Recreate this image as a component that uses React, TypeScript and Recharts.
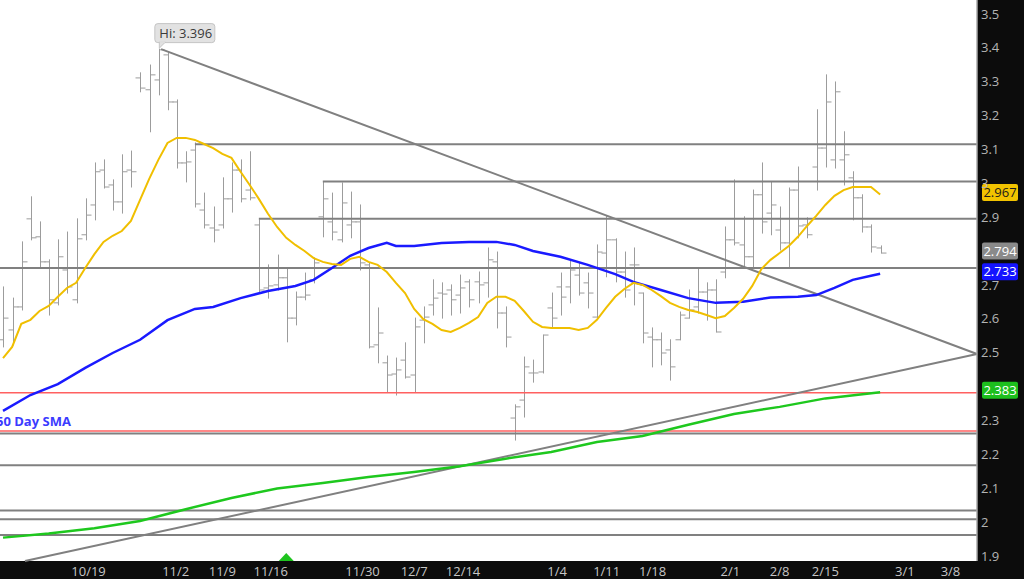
import React from 'react';
import {
  ComposedChart, XAxis, YAxis, Bar, Line, ReferenceLine, ReferenceDot, CartesianGrid,
} from 'recharts';

// ---- OHLC bars (one per trading day, index 0..96) ----
const opens = [2.538,2.567,2.635,2.895,2.842,2.768,2.647,2.744,2.656,2.848,
2.936,3.039,2.995,2.945,3.039,3.311,3.276,3.305,3.379,3.240,
3.060,3.098,2.921,2.868,2.877,2.954,3.039,2.980,2.877,2.691,
2.700,2.721,2.602,2.664,2.715,2.901,2.886,2.833,2.877,2.886,
2.759,2.523,2.470,2.437,2.478,2.434,2.596,2.641,2.676,2.685,
2.670,2.709,2.709,2.706,2.768,2.617,2.307,2.360,2.440,2.443,
2.632,2.694,2.694,2.729,2.706,2.605,2.794,2.833,2.738,2.759,
2.676,2.546,2.538,2.508,2.538,2.602,2.635,2.679,2.685,2.738,
2.833,2.818,2.783,2.966,2.912,2.862,2.824,2.980,2.877,3.048,
3.104,3.069,3.069,3.016,2.957,2.871,2.809];
const highs = [2.694,2.661,2.827,2.960,2.886,2.774,2.833,2.856,2.895,2.954,
3.060,3.069,3.010,3.084,3.095,3.326,3.349,3.396,3.385,3.246,
3.093,3.119,2.971,2.930,3.016,3.060,3.069,3.093,2.892,2.759,
2.788,2.750,2.679,2.735,2.780,3.004,2.971,3.001,2.974,2.936,
2.765,2.632,2.490,2.484,2.529,2.602,2.635,2.715,2.706,2.700,
2.729,2.715,2.738,2.809,2.797,2.635,2.346,2.487,2.478,2.552,
2.676,2.735,2.774,2.765,2.735,2.818,2.904,2.836,2.797,2.809,
2.676,2.573,2.558,2.538,2.620,2.685,2.750,2.706,2.715,2.871,
3.010,2.901,2.980,3.060,3.004,2.930,2.986,3.048,2.898,3.217,
3.320,3.299,3.152,3.034,2.966,2.877,2.815];
const lows = [2.517,2.523,2.626,2.833,2.753,2.611,2.641,2.676,2.647,2.833,
2.892,2.986,2.921,2.912,2.989,3.270,3.152,3.261,3.217,3.045,
3.004,2.930,2.868,2.827,2.868,2.915,2.945,2.951,2.679,2.661,
2.685,2.532,2.582,2.656,2.706,2.842,2.833,2.827,2.839,2.744,
2.514,2.470,2.384,2.375,2.425,2.384,2.529,2.611,2.602,2.611,
2.617,2.635,2.647,2.664,2.573,2.517,2.242,2.310,2.413,2.440,
2.576,2.611,2.647,2.670,2.632,2.602,2.724,2.709,2.664,2.641,
2.529,2.458,2.464,2.419,2.538,2.602,2.617,2.596,2.561,2.721,
2.818,2.750,2.750,2.853,2.848,2.803,2.750,2.839,2.839,2.980,
3.048,3.045,2.995,2.892,2.856,2.797,2.794];
const closes = [2.602,2.635,2.768,2.839,2.768,2.656,2.783,2.694,2.836,2.906,
3.034,2.989,2.945,3.034,3.034,3.281,3.320,3.394,3.240,3.060,
3.063,2.939,2.877,2.862,2.954,3.039,2.954,2.957,2.685,2.697,
2.721,2.602,2.664,2.670,2.765,2.954,2.856,2.942,2.886,2.765,
2.517,2.558,2.434,2.449,2.428,2.576,2.605,2.661,2.673,2.656,
2.691,2.656,2.700,2.774,2.617,2.546,2.340,2.458,2.440,2.552,
2.602,2.664,2.744,2.676,2.676,2.797,2.833,2.738,2.685,2.759,
2.558,2.538,2.499,2.458,2.611,2.626,2.679,2.685,2.561,2.833,
2.824,2.783,2.966,2.886,2.936,2.824,2.980,2.874,2.848,3.104,
3.240,3.270,3.084,2.957,2.871,2.812,2.794];

// ---- moving averages ----
const sma10 = [2.484,2.517,2.585,2.597,2.623,2.638,2.665,2.691,2.706,2.750,
2.791,2.827,2.845,2.859,2.889,2.951,3.013,3.069,3.119,3.134,
3.134,3.128,3.116,3.104,3.087,3.075,3.034,2.995,2.954,2.910,
2.871,2.839,2.818,2.800,2.779,2.768,2.762,2.759,2.777,2.783,
2.768,2.759,2.738,2.706,2.676,2.629,2.599,2.585,2.567,2.561,
2.573,2.588,2.605,2.647,2.665,2.665,2.653,2.623,2.591,2.576,
2.573,2.573,2.573,2.567,2.573,2.597,2.632,2.665,2.688,2.706,
2.700,2.685,2.667,2.647,2.635,2.626,2.620,2.611,2.602,2.608,
2.632,2.659,2.697,2.747,2.774,2.794,2.815,2.842,2.874,2.904,
2.936,2.963,2.980,2.989,2.989,2.989,2.967];
const sma50Idx = [0,3,6,9,12,15,18,21,23,26,29,32,34,36,38,40,42,43,45,48,51,54,56,58,61,64,67,69,72,75,78,81,84,87,89,91,93,95,96];
const sma50Vals = [2.328,2.375,2.407,2.455,2.499,2.538,2.596,2.629,2.635,2.661,
2.682,2.697,2.715,2.750,2.786,2.809,2.824,2.815,2.815,2.824,
2.827,2.827,2.818,2.800,2.783,2.759,2.732,2.709,2.685,2.661,
2.647,2.650,2.663,2.665,2.670,2.691,2.715,2.727,2.733];
const sma200Idx = [0,5,10,15,20,25,30,35,40,45,50,55,60,65,70,75,80,85,90,96];
const sma200Vals = [1.954,1.966,1.982,2.003,2.038,2.071,2.099,2.115,2.133,2.148,
2.165,2.187,2.207,2.236,2.254,2.287,2.319,2.340,2.365,2.383];

// ---- axes ----
const xMin = -0.33;
const xMax = 106.6;
const yMin = 1.885;
const yMax = 3.541;
const xTickPos = [9.36, 18.9, 24.0, 29.3, 39.35, 45.0, 50.35, 60.65, 66.07, 71.1, 79.6, 85.0, 90.0, 98.7, 103.7];
const xTickLabels = ['10/19','11/2','11/9','11/16','11/30','12/7','12/14','1/4','1/11','1/18','2/1','2/8','2/15','3/1','3/8'];
// 2.4 and 2.8 are hidden behind the value boxes in the reference
const yTicks = [1.9,2.0,2.1,2.2,2.3,2.5,2.6,2.7,2.9,3.0,3.1,3.2,3.3,3.4,3.5];

// ---- drawn levels / trendlines ----
const grayLevels = [3.115, 3.005, 2.895, 2.75, 2.261, 2.168, 2.034, 2.008, 1.962];
const grayLevelStarts = [21, 35, 28, xMin, xMin, xMin, xMin, xMin, xMin];
const redLevels = [2.382, 2.269];
const upperTrendIdx = [17.3, 106.6];
const upperTrendVal = [3.396, 2.496];
const lowerTrendIdx = [2.4, 106.6];
const lowerTrendVal = [1.885, 2.496];

// ---- annotations ----
const hiIndex = 17;
const hiValue = 3.396;
const lastValues = [2.967, 2.794, 2.733, 2.383];
const lastBoxFills = ['#f2c300', '#8a8a8a', '#1414ff', '#1dbf1d'];
const lastBoxText = ['#1a1a1a', '#ffffff', '#ffffff', '#ffffff'];
const smaLabel = '50 Day SMA';
const smaLabelValue = 2.297;
const markerIndex = 31;

const lookup = (idx: number[], vals: number[], i: number) => {
  const k = idx.indexOf(i);
  return k >= 0 ? vals[k] : null;
};

const rows = closes.map((c, i) => ({
  i,
  open: opens[i],
  high: highs[i],
  low: lows[i],
  close: c,
  range: [lows[i], highs[i]],
  sma10: sma10[i],
  sma50: lookup(sma50Idx, sma50Vals, i),
  sma200: lookup(sma200Idx, sma200Vals, i),
}));

const FONT = '"Open Sans", "DejaVu Sans", sans-serif';

const OhlcShape = (props: any) => {
  const { x, y, width, height, payload } = props;
  if (payload == null || x == null || y == null) return null;
  const cx = Math.round(x + (width || 0) / 2) + 0.5;
  const top = Math.min(y, y + height);
  const bot = Math.max(y, y + height);
  const span = payload.high - payload.low;
  const py = (v: number) => (span > 0 ? top + ((payload.high - v) / span) * (bot - top) : top);
  const yo = py(payload.open);
  const yc = py(payload.close);
  return (
    <g stroke="#9c9c9c" strokeWidth={1}>
      <line x1={cx} x2={cx} y1={top - 0.5} y2={bot + 0.5} />
      <line x1={cx - 5} x2={cx} y1={yo} y2={yo} />
      <line x1={cx} x2={cx + 5} y1={yc} y2={yc} />
    </g>
  );
};

const makeValueBox = (text: string, fill: string, color: string) => (p: any) => {
  const { cx, cy } = p;
  if (cx == null || cy == null) return <g />;
  return (
    <g>
      <rect x={cx + 5} y={cy - 10.5} width={36} height={17} rx={2} fill={fill} />
      <text x={cx + 23} y={cy + 2.6} textAnchor="middle" fontSize={13} fontFamily={FONT} fill={color}>
        {text}
      </text>
    </g>
  );
};

const HiShape = (p: any) => {
  const { cx, cy } = p;
  if (cx == null || cy == null) return <g />;
  return (
    <g>
      <rect x={cx - 3.5} y={cy - 25.5} width={60} height={19} rx={3} fill="#e2e2e2" stroke="#c4c4c4" />
      <polygon points={`${cx + 1},${cy - 7} ${cx + 7},${cy - 7} ${cx + 1},${cy - 1}`} fill="#e2e2e2" stroke="#c4c4c4" />
      <line x1={cx + 1.5} x2={cx + 6.5} y1={cy - 7} y2={cy - 7} stroke="#e2e2e2" strokeWidth={1.5} />
      <text x={cx + 1} y={cy - 11.5} fontSize={13} fontFamily={FONT} fill="#3a3a3a">
        {`Hi: ${hiValue.toFixed(3)}`}
      </text>
    </g>
  );
};

const SmaTextShape = (p: any) => {
  const { cx, cy } = p;
  if (cx == null || cy == null) return <g />;
  return (
    <text x={cx - 4} y={cy + 4.5} fontSize={13} fontWeight="bold" fontFamily={FONT} fill="#3b3bff">
      {smaLabel}
    </text>
  );
};

const MarkerShape = (p: any) => {
  const { cx, cy } = p;
  if (cx == null || cy == null) return <g />;
  return <polygon points={`${cx - 7.5},${cy} ${cx + 7.5},${cy} ${cx},${cy - 8}`} fill="#1fc41f" />;
};

export default function App() {
  return (
    <div style={{ position: 'absolute', left: 0, top: 0, width: 1024, height: 579, background: '#0c0c0c' }}>
      <ComposedChart width={1024} height={579} data={rows} margin={{ top: 0, right: 0, bottom: 0, left: 0 }}>
        <CartesianGrid horizontal={false} vertical={false} fill="#ffffff" stroke="none" />
        <XAxis
          type="number"
          dataKey="i"
          domain={[xMin, xMax]}
          allowDataOverflow
          ticks={xTickPos}
          interval={0}
          tickFormatter={(v: number) => xTickLabels[xTickPos.indexOf(v)] ?? ''}
          axisLine={false}
          tickLine={false}
          tickSize={0}
          tickMargin={6}
          height={18}
          tick={{ fill: '#c6c6c6', fontSize: 13, fontFamily: FONT }}
        />
        <YAxis
          type="number"
          orientation="right"
          domain={[yMin, yMax]}
          allowDataOverflow
          ticks={yTicks}
          interval={0}
          tickFormatter={(v: number) => String(Number(v.toFixed(1)))}
          axisLine={{ stroke: '#a8a8a8', strokeWidth: 1.5 }}
          tickLine={false}
          tickSize={0}
          tickMargin={4}
          width={47}
          tick={{ fill: '#b4b4b4', fontSize: 13, fontFamily: FONT, textAnchor: 'start' }}
        />

        {grayLevels.map((v, k) => (
          <ReferenceLine
            key={`g${k}`}
            segment={[{ x: grayLevelStarts[k], y: v }, { x: xMax, y: v }]}
            stroke="#808080"
            strokeWidth={2}
          />
        ))}
        {redLevels.map((v, k) => (
          <ReferenceLine key={`r${k}`} y={v} stroke="#ff6060" strokeWidth={1.5} />
        ))}
        <ReferenceLine
          segment={[{ x: upperTrendIdx[0], y: upperTrendVal[0] }, { x: upperTrendIdx[1], y: upperTrendVal[1] }]}
          stroke="#808080"
          strokeWidth={2}
        />
        <ReferenceLine
          segment={[{ x: lowerTrendIdx[0], y: lowerTrendVal[0] }, { x: lowerTrendIdx[1], y: lowerTrendVal[1] }]}
          stroke="#808080"
          strokeWidth={2}
        />

        <Bar dataKey="range" shape={<OhlcShape />} barSize={2} isAnimationActive={false} />

        <Line type="linear" dataKey="sma200" stroke="#1ec81e" strokeWidth={2.5} dot={false} activeDot={false} connectNulls isAnimationActive={false} />
        <Line type="linear" dataKey="sma50" stroke="#1a1aff" strokeWidth={2.5} dot={false} activeDot={false} connectNulls isAnimationActive={false} />
        <Line type="linear" dataKey="sma10" stroke="#f0bf00" strokeWidth={2} dot={false} activeDot={false} connectNulls isAnimationActive={false} />

        <ReferenceDot x={hiIndex} y={hiValue} r={0} shape={HiShape} ifOverflow="visible" />
        <ReferenceDot x={xMin} y={smaLabelValue} r={0} shape={SmaTextShape} ifOverflow="visible" />
        <ReferenceDot x={markerIndex} y={yMin} r={0} shape={MarkerShape} ifOverflow="visible" />
        {lastValues.map((v, k) => (
          <ReferenceDot
            key={`lv${k}`}
            x={xMax}
            y={v}
            r={0}
            ifOverflow="visible"
            shape={makeValueBox(v.toFixed(3), lastBoxFills[k], lastBoxText[k])}
          />
        ))}
      </ComposedChart>
    </div>
  );
}
